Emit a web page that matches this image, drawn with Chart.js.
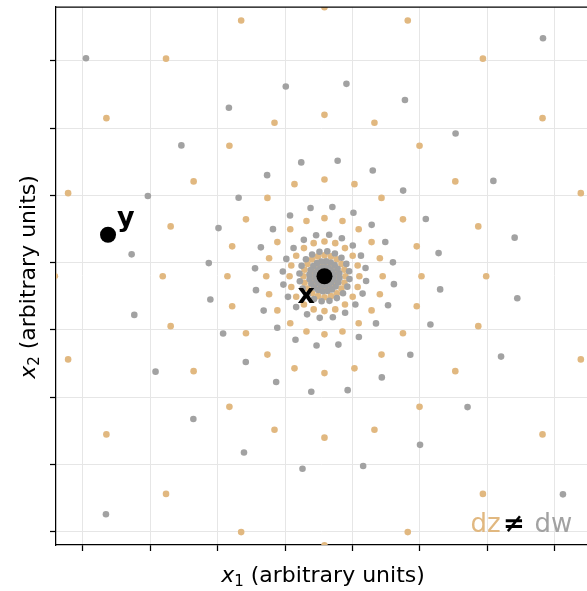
<!DOCTYPE html>
<html lang="en">

<head>
    <meta charset="UTF-8">
    <title>dz vs dw</title>
    <script src="https://cdn.jsdelivr.net/npm/chart.js"></script>
    <style>
        body { margin: 0; background: #fff; }
        #wrap { width: 587px; height: 591px; position: relative; }
    </style>
</head>

<body>
    <div id="wrap">
        <canvas id="myChart"></canvas>
    </div>

    <script>
        // tick positions (no labels drawn)
        const xTickValues = [0, 1, 2, 3, 4, 5, 6, 7];
        const yTickValues = [0, 1, 2, 3, 4, 5, 6, 7];

        // the two marked points
        const pointNames = ['x', 'y'];
        const pointX = [3.584, 0.372];
        const pointY = [3.796, 4.413];

        // ring radii around x for each distance, and the angles (degrees) of the dots on a ring
        const dzRadii = [4.0, 2.4, 1.44, 0.864, 0.518, 0.311, 0.187, 0.112];
        const dwRadii = [4.8, 2.88, 1.728, 1.037, 0.622, 0.373, 0.224, 0.134, 0.081, 0.048];
        const dzAngles = [0, 18, 36, 54, 72, 90, 108, 126, 144, 162, 180, 198, 216, 234, 252, 270, 288, 306, 324, 342];
        const dwAngles = [11.5, 29.5, 47.5, 65.5, 83.5, 101.5, 119.5, 137.5, 155.5, 173.5, 191.5, 209.5, 227.5, 245.5, 263.5, 281.5, 299.5, 317.5, 335.5, 353.5];

        const dzColor = '#e1b880';
        const dwColor = '#a2a2a2';

        function rings(radii, angles) {
            const pts = [];
            radii.forEach(r => {
                angles.forEach(a => {
                    const t = a * Math.PI / 180;
                    pts.push({ x: pointX[0] + r * Math.cos(t), y: pointY[0] + r * Math.sin(t) });
                });
            });
            return pts;
        }

        // top spine, axis titles, point names and the dz / dw note
        const extras = {
            id: 'extras',
            afterDatasetsDraw(chart) {
                const c = chart.ctx;
                const area = chart.chartArea;
                const xs = chart.scales.x, ys = chart.scales.y;
                c.save();

                c.strokeStyle = '#000';
                c.lineWidth = 1.25;
                c.beginPath();
                c.moveTo(area.left, area.top);
                c.lineTo(area.right, area.top);
                c.stroke();

                c.fillStyle = '#000';
                c.textBaseline = 'alphabetic';
                c.font = 'bold 27px "DejaVu Sans"';
                c.textAlign = 'left';
                c.fillText(pointNames[0], xs.getPixelForValue(pointX[0]) - 27, ys.getPixelForValue(pointY[0]) + 27);
                c.fillText(pointNames[1], xs.getPixelForValue(pointX[1]) + 9, ys.getPixelForValue(pointY[1]) - 9);

                // axis titles: italic x, subscript index, then the units
                const big = '22px "DejaVu Sans"';
                const it = 'oblique 22px "DejaVu Sans"';
                const sub = '15px "DejaVu Sans"';
                const rest = ' (arbitrary units)';
                c.font = it; const w1 = c.measureText('x').width;
                c.font = sub; const w2 = c.measureText('1').width;
                c.font = big; const w3 = c.measureText(rest).width;
                const total = w1 + w2 + w3;

                let x0 = 323 - total / 2;
                const by = 582;
                c.font = it; c.fillText('x', x0, by);
                c.font = sub; c.fillText('1', x0 + w1, by + 4);
                c.font = big; c.fillText(rest, x0 + w1 + w2, by);

                c.save();
                c.translate(35, 277);
                c.rotate(-Math.PI / 2);
                x0 = -total / 2;
                c.font = it; c.fillText('x', x0, 0);
                c.font = sub; c.fillText('2', x0 + w1, 4);
                c.font = big; c.fillText(rest, x0 + w1 + w2, 0);
                c.restore();

                // dz ≠ dw
                c.font = '26px "DejaVu Sans"';
                c.fillStyle = dzColor;
                c.fillText('dz', 470.5, 532);
                c.fillStyle = '#000';
                c.font = 'bold 26px "DejaVu Sans"';
                c.fillText('≠', 503, 532);
                c.fillStyle = dwColor;
                c.font = '26px "DejaVu Sans"';
                c.fillText('dw', 534.5, 532);

                c.restore();
            }
        };

        const ctx = document.getElementById('myChart');
        new Chart(ctx, {
            type: 'scatter',
            data: {
                datasets: [
                    {
                        label: 'points',
                        data: pointX.map((v, i) => ({ x: v, y: pointY[i] })),
                        backgroundColor: '#000',
                        borderWidth: 0,
                        pointRadius: 8,
                        order: 0,
                        clip: false
                    },
                    {
                        label: 'dw',
                        data: rings(dwRadii, dwAngles),
                        backgroundColor: dwColor,
                        borderWidth: 0,
                        pointRadius: 3.3,
                        order: 1,
                        clip: 0
                    },
                    {
                        label: 'dz',
                        data: rings(dzRadii, dzAngles),
                        backgroundColor: dzColor,
                        borderWidth: 0,
                        pointRadius: 3.3,
                        order: 2,
                        clip: 0
                    }
                ]
            },
            options: {
                responsive: true,
                maintainAspectRatio: false,
                animation: false,
                layout: { autoPadding: false, padding: { top: 7, right: 0, left: 0, bottom: 0 } },
                plugins: { legend: { display: false }, tooltip: { enabled: false } },
                scales: {
                    x: {
                        type: 'linear',
                        min: -0.40,
                        max: 7.48,
                        afterBuildTicks: s => { s.ticks = xTickValues.map(v => ({ value: v })); },
                        afterFit: s => { s.height = 46; },
                        ticks: { display: false },
                        grid: { color: '#e6e6e6', lineWidth: 1, tickColor: '#000', tickLength: 6, tickWidth: 1.25 },
                        border: { color: '#000', width: 1.25 }
                    },
                    y: {
                        type: 'linear',
                        min: -0.20,
                        max: 7.80,
                        afterBuildTicks: s => { s.ticks = yTickValues.map(v => ({ value: v })); },
                        afterFit: s => { s.width = 56; },
                        ticks: { display: false },
                        grid: { color: '#e6e6e6', lineWidth: 1, tickColor: '#000', tickLength: 6, tickWidth: 1.25 },
                        border: { color: '#000', width: 1.25 }
                    }
                }
            },
            plugins: [extras]
        });
    </script>
</body>

</html>
